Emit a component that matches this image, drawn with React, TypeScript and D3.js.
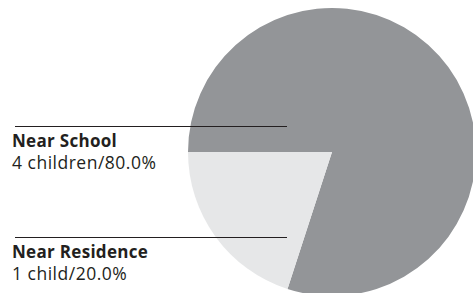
import React from "react";
import * as d3 from "d3";

const categories = ["Near School", "Near Residence"];
const counts = [4, 1];
const countLabels = ["4 children", "1 child"];
const percentLabels = ["80.0%", "20.0%"];
const colors = ["#939598", "#e6e7e8"];

const W = 473;
const H = 293;

export default function App() {
  const cx = 332;
  const cy = 152;
  const r = 144;
  const pie = d3
    .pie<number>()
    .sort(null)
    .startAngle(-Math.PI / 2)
    .endAngle((3 * Math.PI) / 2);
  const arcs = pie(counts);
  const arc = d3.arc<d3.PieArcDatum<number>>().innerRadius(0).outerRadius(r);
  const labelY = [126, 237];
  return (
    <svg
      width={W}
      height={H}
      style={{ position: "absolute", left: 0, top: 0, background: "#fff" }}
      fontFamily="'Open Sans', 'Noto Sans', sans-serif"
    >
      <g transform={`translate(${cx},${cy})`}>
        {arcs.map((a, i) => (
          <path key={i} d={arc(a) || ""} fill={colors[i]} />
        ))}
      </g>
      {categories.map((c, i) => (
        <g key={c}>
          <line x1={15} x2={287} y1={labelY[i] + 0.5} y2={labelY[i] + 0.5} stroke="#231f20" strokeWidth={1} />
          <text x={12} y={labelY[i] + 21} fontSize={17} letterSpacing={0.3} fontWeight="bold" fill="#231f20">
            {c}
          </text>
          <text x={12} y={labelY[i] + 43} fontSize={17.5} letterSpacing={0.5} fill="#231f20">
            {`${countLabels[i]}/${percentLabels[i]}`}
          </text>
        </g>
      ))}
    </svg>
  );
}
